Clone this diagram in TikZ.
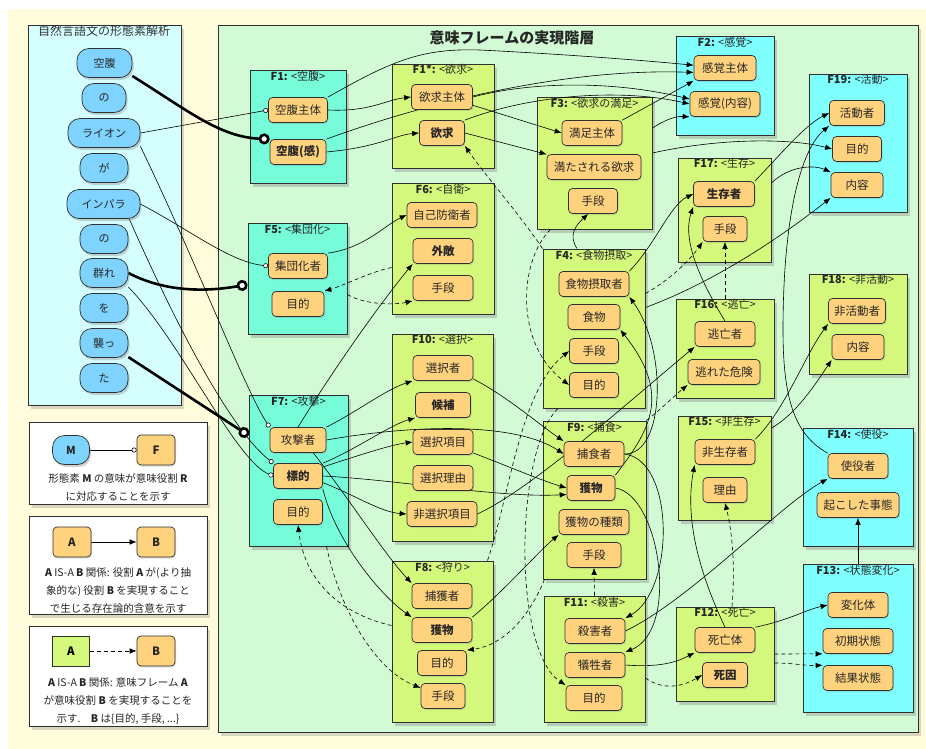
\documentclass[tikz,border=0pt]{standalone}
\usepackage{fontspec}
\setmainfont{Noto Sans CJK JP}
\usetikzlibrary{arrows.meta,shadows}
\definecolor{bgC}{HTML}{FFFCDB}
\definecolor{leftC}{HTML}{D5FFFF}
\definecolor{mainC}{HTML}{D2FAD5}
\definecolor{tealC}{HTML}{76FCD9}
\definecolor{cyanC}{HTML}{80FFFF}
\definecolor{limeC}{HTML}{D4F87B}
\definecolor{roleC}{HTML}{FFD27E}
\definecolor{morphC}{HTML}{7ED4FF}
\definecolor{edgeC}{HTML}{303030}
\pgfdeclarelayer{back}
\pgfdeclarelayer{lines}
\pgfsetlayers{back,lines,main}
\tikzset{
  panel/.style={draw=edgeC, line width=0.9pt, drop shadow={shadow xshift=2.5pt, shadow yshift=-4pt, opacity=0.3}},
  fbox/.style={draw=edgeC, line width=0.9pt, fill=#1, inner sep=0pt, drop shadow={shadow xshift=2.5pt, shadow yshift=-4pt, opacity=0.35}},
  ftitle/.style={anchor=north, inner sep=1pt, font=\fontsize{11}{12}\selectfont, text=black!85},
  role/.style={draw=edgeC, line width=0.7pt, fill=roleC, rounded corners=4pt, minimum width=#1, minimum height=25pt, inner sep=0pt, font=\fontsize{11.5}{13}\selectfont, text=black!85, drop shadow={shadow xshift=1pt, shadow yshift=-1.5pt, opacity=0.25}},
  role/.default=49pt,
  morph/.style={draw=edgeC, line width=0.7pt, fill=morphC, rounded corners=12pt, minimum width=#1, minimum height=29pt, inner sep=0pt, font=\fontsize{11}{13}\selectfont, text=black!85, drop shadow={shadow xshift=1.5pt, shadow yshift=-2.5pt, opacity=0.35}},
  morph/.default=48pt,
  isa/.style={-{Latex[length=7pt,width=5.5pt]}, line width=0.6pt},
  real/.style={isa, dash pattern=on 4pt off 3pt},
  mlink/.style={line width=0.6pt, -{Circle[length=5pt, fill=white]}},
  blink/.style={line width=2.6pt, -{Circle[length=11pt, fill=white]}},
  legtext/.style={align=center, font=\fontsize{10.5}{18}\selectfont, text=black!85}
}
\begin{document}
\begin{tikzpicture}[x=1pt,y=-1pt]
\useasboundingbox (0,0) rectangle (926,749);
\begin{pgfonlayer}{back}
\fill[bgC] (8,9) rectangle (926,749);
\draw[panel, fill=leftC] (28,25) rectangle (181,405);
\draw[panel, fill=white] (29,422) rectangle (207,504);
\draw[panel, fill=white] (29,516) rectangle (207,614);
\draw[panel, fill=white] (29,626) rectangle (207,726);
\draw[panel, fill=mainC] (218,25) rectangle (918,732);
% frames
\node[fbox=tealC, minimum width=96pt, minimum height=113pt, label={[ftitle]north:{\textbf{F1:} <空腹>}}] (F1) at (298,126.5) {};
\node[fbox=tealC, minimum width=99pt, minimum height=111pt, label={[ftitle]north:{\textbf{F5:} <集団化>}}] (F5) at (297.5,278.5) {};
\node[fbox=tealC, minimum width=99pt, minimum height=151pt, label={[ftitle]north:{\textbf{F7:} <攻撃>}}] (F7) at (298.5,470.5) {};
\node[fbox=limeC, minimum width=102pt, minimum height=104pt, label={[ftitle]north:{\textbf{F1*:} <欲求>}}] (F1s) at (443,116) {};
\node[fbox=limeC, minimum width=102pt, minimum height=131pt, label={[ftitle]north:{\textbf{F6:} <自衛>}}] (F6) at (443,248.5) {};
\node[fbox=limeC, minimum width=101pt, minimum height=207pt, label={[ftitle]north:{\textbf{F10:} <選択>}}] (F10) at (442.5,437.5) {};
\node[fbox=limeC, minimum width=101pt, minimum height=161pt, label={[ftitle]north:{\textbf{F8:} <狩り>}}] (F8) at (442.5,641.5) {};
\node[fbox=limeC, minimum width=115pt, minimum height=132pt, label={[ftitle]north:{\textbf{F3:} <欲求の満足>}}] (F3) at (594.5,163) {};
\node[fbox=limeC, minimum width=102pt, minimum height=159pt, label={[ftitle]north:{\textbf{F4:} <食物摂取>}}] (F4) at (594,328.5) {};
\node[fbox=limeC, minimum width=103pt, minimum height=158pt, label={[ftitle]north:{\textbf{F9:} <捕食>}}] (F9) at (594.5,500) {};
\node[fbox=limeC, minimum width=101pt, minimum height=126pt, label={[ftitle]north:{\textbf{F11:} <殺害>}}] (F11) at (594.5,659) {};
\node[fbox=cyanC, minimum width=98pt, minimum height=99pt, label={[ftitle]north:{\textbf{F2:} <感覚>}}] (F2) at (725,85.5) {};
\node[fbox=limeC, minimum width=93pt, minimum height=104pt, label={[ftitle]north:{\textbf{F17:} <生存>}}] (F17) at (724.5,210) {};
\node[fbox=limeC, minimum width=98pt, minimum height=99pt, label={[ftitle]north:{\textbf{F16:} <逃亡>}}] (F16) at (725,348.5) {};
\node[fbox=limeC, minimum width=93pt, minimum height=104pt, label={[ftitle]north:{\textbf{F15:} <非生存>}}] (F15) at (724.5,468) {};
\node[fbox=limeC, minimum width=98pt, minimum height=94pt, label={[ftitle]north:{\textbf{F12:} <死亡>}}] (F12) at (725,654) {};
\node[fbox=cyanC, minimum width=98pt, minimum height=138pt, label={[ftitle]north:{\textbf{F19:} <活動>}}] (F19) at (858,143) {};
\node[fbox=limeC, minimum width=98pt, minimum height=100pt, label={[ftitle]north:{\textbf{F18:} <非活動>}}] (F18) at (858,324) {};
\node[fbox=cyanC, minimum width=110pt, minimum height=118pt, label={[ftitle]north:{\textbf{F14:} <使役>}}] (F14) at (858,487) {};
\node[fbox=cyanC, minimum width=110pt, minimum height=148pt, label={[ftitle]north:{\textbf{F13:} <状態変化>}}] (F13) at (858,638) {};
\end{pgfonlayer}

% titles
\node[font=\fontsize{12}{14}\selectfont, text=black!80] (ltitle) at (104,31) {自然言語文の形態素解析};
\node[font=\bfseries\fontsize{15}{17}\selectfont, text=black!85] (mtitle) at (512,38) {意味フレームの実現階層};

% morphemes
\node[morph=55pt] (m1) at (104.5,63) {空腹};
\node[morph=44pt] (m2) at (104,98) {の};
\node[morph=72pt] (m3) at (104,133) {ライオン};
\node[morph] (m4) at (104,168) {が};
\node[morph=73pt] (m5) at (103.5,204) {インパラ};
\node[morph] (m6) at (104,239) {の};
\node[morph] (m7) at (104,273) {群れ};
\node[morph] (m8) at (104,308) {を};
\node[morph] (m9) at (104,343) {襲っ};
\node[morph] (m10) at (104,378) {た};

% roles
\node[role=59pt] (F1a) at (298,110) {空腹主体};
\node[role=56pt] (F1b) at (298,152) {\textbf{空腹(感)}};
\node[role=59pt] (F5a) at (298,266) {集団化者};
\node[role=52pt] (F5b) at (298,304) {目的};
\node[role=56pt] (F7a) at (298,440) {攻撃者};
\node[role] (F7b) at (298,476) {\textbf{標的}};
\node[role] (F7c) at (298,512) {目的};
\node[role=61pt] (F1sa) at (442,97) {欲求主体};
\node[role=45pt] (F1sb) at (442,133) {\textbf{欲求}};
\node[role=70pt] (F6a) at (442,215) {自己防衛者};
\node[role=60pt] (F6b) at (443,251) {\textbf{外敵}};
\node[role=60pt] (F6c) at (443,288) {手段};
\node[role=60pt] (F10a) at (443,368) {選択者};
\node[role=55pt] (F10b) at (443,405) {\textbf{候補}};
\node[role=60pt] (F10c) at (443,442) {選択項目};
\node[role=60pt] (F10d) at (443,478) {選択理由};
\node[role=70pt] (F10e) at (442,514) {非選択項目};
\node[role=60pt] (F8a) at (442,596) {捕獲者};
\node[role=60pt] (F8b) at (442,630) {\textbf{獲物}};
\node[role] (F8c) at (442,663) {目的};
\node[role=44pt] (F8d) at (443,696) {手段};
\node[role=60pt] (F3a) at (592,133) {満足主体};
\node[role=94pt] (F3b) at (594,167) {満たされる欲求};
\node[role] (F3c) at (593,201) {手段};
\node[role=70pt] (F4a) at (594,284) {食物摂取者};
\node[role=52pt] (F4b) at (594,317) {食物};
\node[role] (F4c) at (594,351) {手段};
\node[role] (F4d) at (594,385) {目的};
\node[role=60pt] (F9a) at (594,454) {捕食者};
\node[role=48pt] (F9b) at (591,488) {\textbf{獲物}};
\node[role=70pt] (F9c) at (594,522) {獲物の種類};
\node[role=54pt] (F9d) at (594,555) {手段};
\node[role=60pt] (F11a) at (595,631) {殺害者};
\node[role=60pt] (F11b) at (595,665) {犠牲者};
\node[role=56pt] (F11c) at (594,698) {目的};
\node[role=62pt] (F2a) at (725,68) {感覚主体};
\node[role=70pt] (F2b) at (725,104) {感覚(内容)};
\node[role=55pt] (F19a) at (857,113) {活動者};
\node[role] (F19b) at (857,149) {目的};
\node[role=52pt] (F19c) at (857,185) {内容};
\node[role=61pt] (F17a) at (724,194) {\textbf{生存者}};
\node[role=44pt] (F17b) at (725,229) {手段};
\node[role=60pt] (F16a) at (725,334) {逃亡者};
\node[role=72pt] (F16b) at (724,372) {逃れた危険};
\node[role=57pt] (F18a) at (857,311) {非活動者};
\node[role=52pt] (F18b) at (858,347) {内容};
\node[role=60pt] (F15a) at (725,452) {非生存者};
\node[role=44pt] (F15b) at (725,490) {理由};
\node[role=60pt] (F14a) at (858,466) {使役者};
\node[role=82pt] (F14b) at (858,505) {起こした事態};
\node[role=60pt] (F12a) at (725,640) {死亡体};
\node[role=45pt] (F12b) at (725,675) {\textbf{死因}};
\node[role=60pt] (F13a) at (858,605) {変化体};
\node[role=70pt] (F13b) at (858,641) {初期状態};
\node[role=70pt] (F13c) at (858,678) {結果状態};

% legend
\node[morph=37pt] (lm) at (71,450) {\textbf{M}};
\node[role=38pt, minimum height=30pt] (lf) at (156,450) {\textbf{F}};
\node[legtext] (l1t) at (118,487) {形態素 \textbf{M} の意味が意味役割 \textbf{R}\\に対応することを示す};
\node[role=38pt, minimum height=30pt] (la) at (72,542) {\textbf{A}};
\node[role=38pt, minimum height=30pt] (lb) at (156,542) {\textbf{B}};
\node[legtext] (l2t) at (118,590) {\textbf{A} IS-A \textbf{B} 関係: 役割 \textbf{A} が(より抽\\象的な) 役割 \textbf{B} を実現すること\\で生じる存在論的含意を示す};
\node[draw=edgeC, line width=0.7pt, fill=limeC, minimum width=37pt, minimum height=30pt, font=\fontsize{11.5}{13}\selectfont] (lc) at (71,651) {\textbf{A}};
\node[role=38pt, minimum height=30pt] (ld) at (156,651) {\textbf{B}};
\node[legtext] (l3t) at (118,701) {\textbf{A} IS-A \textbf{B} 関係: 意味フレーム \textbf{A}\\が意味役割 \textbf{B} を実現することを\\示す.　\textbf{B} は\{目的, 手段, ...\}};

\begin{pgfonlayer}{lines}
% legend connectors
\draw[mlink] (lm) -- (lf);
\draw[isa] (la) -- (lb);
\draw[real] (lc) -- (ld);
% morpheme to role
\draw[mlink] (m3.east) -- (F1a.west);
\draw[blink] (m1.-25) .. controls (190,112) and (220,137) .. (F1b.north west);
\draw[mlink] (m3.-20) .. controls (200,270) and (245,390) .. (F7a.north west);
\draw[mlink] (m5.east) .. controls (190,230) and (230,262) .. (F5a.west);
\draw[mlink] (m5.-30) .. controls (165,300) and (225,425) .. (F7b.north west);
\draw[mlink] (m7.-30) .. controls (180,340) and (235,460) .. (F7b.west);
\draw[blink] (m7.east) .. controls (165,292) and (205,292) .. ([yshift=-6pt]F5.west);
\draw[blink] (m9.-30) -- ([yshift=35pt]F7.west);
% role IS-A role
\draw[isa] (F1a.east) .. controls (370,112) and (385,100) .. (F1sa.west);
\draw[isa] (F1a.north east) .. controls (390,62) and (420,48) .. (480,50) .. controls (560,54) and (640,60) .. (F2a.175);
\draw[isa] (F1b.north east) .. controls (420,105) and (560,68) .. (F2a.188);
\draw[isa] (F1b.east) .. controls (380,147) and (395,135) .. (F1sb.west);
\draw[isa] (F1sa.-15) -- (F3a.west);
\draw[isa] (F1sb.east) -- (F3b.165);
\draw[isa] (F1sa.east) .. controls (530,82) and (610,80) .. (F2b.172);
\draw[isa] (F1sb.north east) .. controls (530,95) and (620,88) .. (F2b.west);
\draw[isa] (F3a.north east) -- (F2a.south west);
\draw[isa] ([yshift=35pt]F3.east) .. controls (665,120) and (675,116) .. (F2b.south west);
\draw[isa] ([yshift=10pt]F3.east) .. controls (720,138) and (790,138) .. (F19b.west);
\draw[isa] ([xshift=-17pt]F4.north) .. controls (568,235) and (576,225) .. (F3c.250);
\draw[isa] (F4a.north east) .. controls (655,245) and (670,205) .. (F17a.west);
\draw[isa] (F16a.north) .. controls (700,280) and (682,240) .. (F17a.south west);
\draw[isa] ([yshift=21pt]F4.east) .. controls (720,280) and (790,230) .. (F19c.south west);
\draw[isa] (F17a.north east) .. controls (780,155) and (805,125) .. (F19a.west);
\draw[isa] ([yshift=27pt]F17.east) .. controls (790,165) and (815,165) .. (F19c.north west);
\draw[isa] (F14a.north west) .. controls (795,435) and (783,400) .. (783,330) .. controls (783,220) and (800,150) .. (F19a.south west);
\draw[isa] (F5a.north east) .. controls (365,248) and (385,225) .. (F6a.west);
\draw[isa] (F7a.north) .. controls (330,375) and (375,310) .. (F6b.south west);
\draw[isa] (F7a.north east) .. controls (360,410) and (385,390) .. (F10a.south west);
\draw[isa] (F7a.east) .. controls (430,422) and (520,425) .. (F9a.west);
\draw[isa] (F7a.-40) .. controls (350,500) and (385,555) .. (F8a.north west);
\draw[isa] (F7b.north east) .. controls (355,450) and (390,425) .. (F10b.south west);
\draw[isa] (F7b.20) .. controls (360,455) and (390,445) .. (F10c.west);
\draw[isa] (F7b.east) .. controls (400,480) and (500,498) .. (F9b.195);
\draw[isa] (F7b.-15) .. controls (355,495) and (380,512) .. (F10e.west);
\draw[isa] (F7b.south east) .. controls (335,540) and (380,595) .. (F8b.north west);
\draw[isa] (F10a.-20) .. controls (505,395) and (540,425) .. (F9a.north west);
\draw[isa] (F10c.-20) .. controls (505,465) and (540,480) .. (F9b.west);
\draw[isa] (F10e.east) .. controls (530,490) and (625,405) .. (F16a.south west);
\draw[isa] (F8b.north east) .. controls (505,590) and (540,550) .. (F9c.south west);
\draw[isa] (F9a.east) .. controls (665,455) and (668,350) .. (F4a.south east);
\draw[isa] (F9b.north east) .. controls (650,430) and (672,395) .. (F4b.south east);
\draw[isa] (F9a.east) .. controls (675,460) and (675,590) .. (F11a.north east);
\draw[isa] (F9b.east) .. controls (660,495) and (680,630) .. (F11b.north east);
\draw[isa] (F11a.east) .. controls (690,600) and (780,505) .. (F14a.south west);
\draw[isa] (F11b.east) .. controls (665,668) and (680,660) .. (F12a.south west);
\draw[isa] (F12a.north east) .. controls (790,620) and (805,610) .. (F13a.west);
\draw[isa] (F12a.north) .. controls (705,585) and (683,525) .. (F15a.south west);
\draw[isa] (F15a.north east) .. controls (785,410) and (805,355) .. (F18a.south west);
\draw[isa] ([yshift=40pt]F15.east) .. controls (795,415) and (815,385) .. (F18b.south west);
\draw[isa] (F13.north) -- (F14b.south);
% frame realizes role
\draw[real] ([yshift=-19pt]F6.west) .. controls (370,272) and (345,285) .. (F5b.north east);
\draw[real] ([yshift=-16pt]F5.east) .. controls (365,305) and (395,305) .. (F6c.south west);
\draw[real] (F4.north west) .. controls (520,215) and (485,175) .. (F1sb.south east);
\draw[real] ([xshift=-44pt]F3.south) .. controls (518,262) and (515,345) .. (F4d.west);
\draw[real] ([xshift=45pt]F8.north) .. controls (510,495) and (520,390) .. (F4c.west);
\draw[real] ([xshift=-36pt]F4.south) .. controls (515,450) and (512,650) .. (F11c.north west);
\draw[real] ([xshift=-50pt]F9.south) .. controls (530,615) and (505,645) .. (F8c.north east);
\draw[real] (F11.north) -- (F9d.south);
\draw[real] ([xshift=28pt]F7.south) .. controls (340,610) and (375,670) .. (F8d.160);
\draw[real] ([yshift=16pt]F8.west) .. controls (345,615) and (305,585) .. (F7c.south);
\draw[real] ([yshift=-19pt]F11.east) .. controls (665,692) and (685,685) .. (F12b.west);
\draw[real] (F12.east) -- (F13b.south west);
\draw[real] ([yshift=-9pt]F12.east) .. controls (795,663) and (805,666) .. (F13c.north west);
\draw[real] (F16.north) -- (F17b.south);
\draw[real] ([yshift=35pt]F4.east) .. controls (670,280) and (690,260) .. (F17b.south west);
\draw[real] (F9.north east) .. controls (660,410) and (672,398) .. (F16b.south west);
\draw[real] ([xshift=7pt]F12.north) .. controls (735,570) and (733,535) .. (F15b.south);
\end{pgfonlayer}
\end{tikzpicture}
\end{document}
